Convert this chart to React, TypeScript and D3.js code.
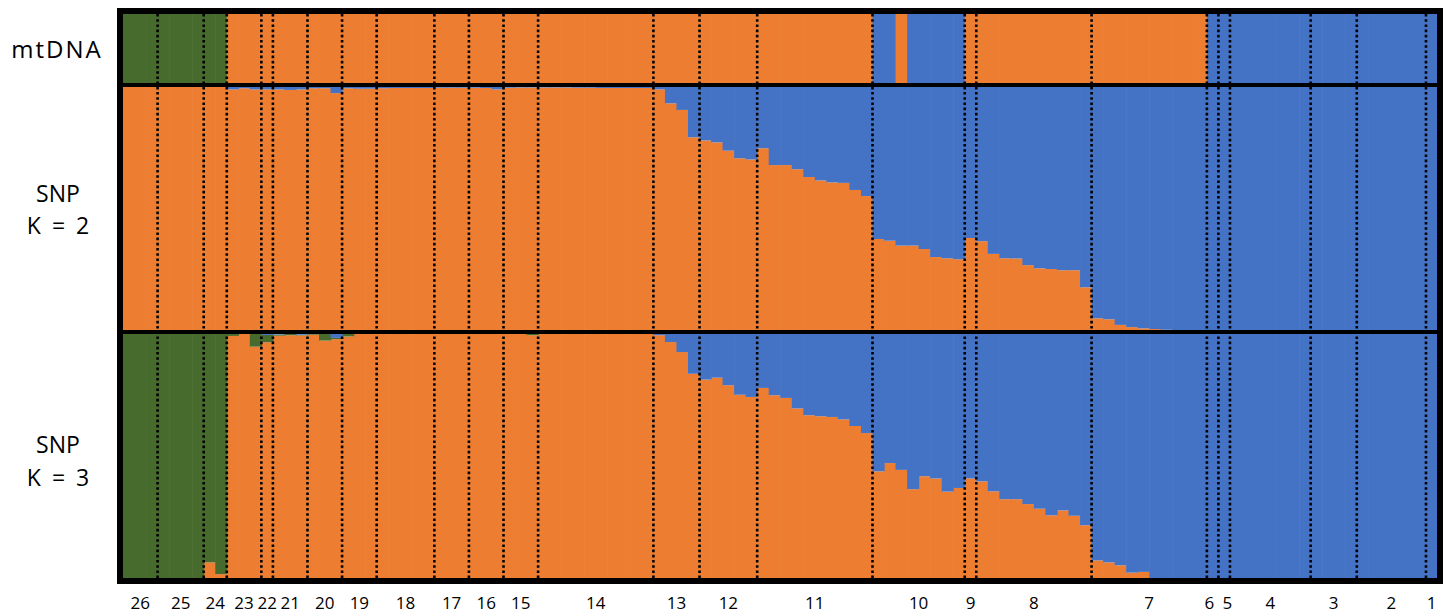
import React from "react";
import * as d3 from "d3";

// Population labels (left to right) and number of individuals in each
const popLabels = ["26","25","24","23","22","21","20","19","18","17","16","15","14","13","12","11","10","9","8","7","6","5","4","3","2","1"];
const popSizes = [3,4,2,3,1,3,3,3,5,3,3,3,10,4,5,10,8,1,10,10,1,1,7,4,6,1];

// mtDNA haplogroup per individual, grouped per population (G green, O orange, B blue)
const mtDNAByPop = [
  "GGG","GGGG","GG","OOO","O","OOO","OOO","OOO","OOOOO","OOO","OOO","OOO",
  "OOOOOOOOOO","OOOO","OOOOO","OOOOOOOOOO","BBOBBBBB","O","OOOOOOOOOO","OOOOOOOOOO",
  "B","B","BBBBBBB","BBBB","BBBBBB","B"
];

// SNP K = 2: orange membership per individual (blue = remainder)
const k2Orange = [
  1,1,1, 1,1,1,1, 1,1,
  0.99,0.995,0.99, 0.99, 0.99,0.988,0.99, 0.995,0.995,0.975, 0.995,0.993,0.993,
  0.995,0.996,0.996,0.996,0.996, 0.997,0.997,0.997, 0.997,0.996,0.99, 0.997,0.998,0.998,
  0.998,0.998,0.998,0.997,0.997,0.996,0.996,0.996,0.996,0.996,
  0.99,0.933,0.906,0.794,
  0.781,0.773,0.739,0.708,0.703,
  0.749,0.68,0.68,0.663,0.631,0.617,0.609,0.607,0.578,0.553,
  0.377,0.37,0.35,0.35,0.336,0.303,0.298,0.294,
  0.381,
  0.368,0.316,0.298,0.297,0.27,0.257,0.254,0.249,0.249,0.179,
  0.052,0.048,0.025,0.016,0.011,0.008,0.005,0.003,0,0,
  0, 0, 0,0,0,0,0,0,0, 0,0,0,0, 0,0,0,0,0,0, 0
];

// SNP K = 3: green and orange membership per individual (blue = remainder)
const k3Green = [
  1,1,1, 1,1,1,1, 0.936,0.984,
  0.008,0,0.052, 0.03, 0.005,0.005,0.003, 0.003,0.027,0.005, 0.01,0,0,
  0,0,0,0,0, 0,0,0, 0,0,0, 0,0,0.005,
  0,0,0,0,0,0,0,0,0,0,
  0,0,0,0, 0,0,0,0,0, 0,0,0,0,0,0,0,0,0,0,
  0,0,0,0,0,0,0,0, 0, 0,0,0,0,0,0,0,0,0,0,
  0,0,0,0,0,0,0,0,0,0,
  0, 0, 0,0,0,0,0,0,0, 0,0,0,0, 0,0,0,0,0,0, 0
];
const k3Orange = [
  0,0,0, 0,0,0,0, 0.064,0.016,
  0.992,1,0.948, 0.966, 0.993,0.995,0.994, 0.997,0.973,0.979, 0.99,1,1,
  1,1,1,1,1, 1,1,1, 1,1,1, 1,1,0.995,
  1,1,1,1,1,1,1,1,1,1,
  0.995,0.967,0.926,0.837,
  0.813,0.821,0.79,0.751,0.742,
  0.779,0.749,0.738,0.695,0.667,0.663,0.66,0.65,0.623,0.594,
  0.437,0.471,0.443,0.364,0.417,0.408,0.354,0.369,
  0.408,
  0.396,0.355,0.323,0.323,0.303,0.284,0.257,0.277,0.255,0.216,
  0.072,0.064,0.052,0.022,0.025,0,0,0,0,0,
  0, 0, 0,0,0,0,0,0,0, 0,0,0,0, 0,0,0,0,0,0, 0
];

const COLORS: Record<string, string> = { G: "#476B2D", O: "#ED7D31", B: "#4472C4" };

export default function App() {
  const W = 1449, H = 613;
  const n = d3.sum(popSizes);
  const x = d3.scaleLinear().domain([0, n]).range([123, 1437.5]);
  const yMt = d3.scaleLinear().domain([0, 1]).range([85, 14]);
  const yK2 = d3.scaleLinear().domain([0, 1]).range([331, 87]);
  const yK3 = d3.scaleLinear().domain([0, 1]).range([578, 334]);

  const mt = mtDNAByPop.join("").split("");
  const cum: number[] = Array.from(d3.cumsum(popSizes));
  const starts = popSizes.map((s, i) => cum[i] - s);

  // label centres, pushed apart where single-individual populations crowd together
  const labelX = popSizes.map((s, i) => x(starts[i] + s / 2));
  const minGap = 18;
  for (let pass = 0; pass < 4; pass++) {
    for (let i = 1; i < labelX.length; i++) {
      const gap = labelX[i] - labelX[i - 1];
      if (gap < minGap) {
        const push = (minGap - gap) / 2;
        labelX[i - 1] -= push;
        labelX[i] += push;
      }
    }
  }

  const k2Rows = d3.range(n).map((i) => ({ orange: k2Orange[i], blue: Math.max(0, 1 - k2Orange[i]) }));
  const k3Rows = d3.range(n).map((i) => ({
    orange: k3Orange[i],
    green: k3Green[i],
    blue: Math.max(0, 1 - k3Orange[i] - k3Green[i]),
  }));
  const k2Stack = d3.stack<any>().keys(["orange", "blue"])(k2Rows);
  const k3Stack = d3.stack<any>().keys(["orange", "green", "blue"])(k3Rows);
  const keyColor: Record<string, string> = { orange: COLORS.O, green: COLORS.G, blue: COLORS.B };

  const bw = (i: number) => x(i + 1) - x(i) + 0.6;

  const font = "'Open Sans', 'Noto Sans', sans-serif";

  return (
    <svg width={W} height={H} style={{ position: "absolute", left: 0, top: 0, background: "#fff" }} fontFamily={font}>
      {/* mtDNA */}
      {mt.map((h, i) => (
        <rect key={"mt" + i} x={x(i)} y={yMt(1)} width={bw(i)} height={yMt(0) - yMt(1)} fill={COLORS[h]} />
      ))}
      {/* K = 2 */}
      {k2Stack.map((layer) =>
        layer.map((d, i) => (
          <rect key={layer.key + "k2" + i} x={x(i)} y={yK2(d[1])} width={bw(i)}
            height={Math.max(0, yK2(d[0]) - yK2(d[1]))} fill={keyColor[layer.key]} />
        ))
      )}
      {/* K = 3 */}
      {k3Stack.map((layer) =>
        layer.map((d, i) => (
          <rect key={layer.key + "k3" + i} x={x(i)} y={yK3(d[1])} width={bw(i)}
            height={Math.max(0, yK3(d[0]) - yK3(d[1]))} fill={keyColor[layer.key]} />
        ))
      )}
      {/* population boundaries */}
      {cum.slice(0, -1).map((c, i) => (
        <line key={"b" + i} x1={x(c)} x2={x(c)} y1={14} y2={578} stroke="#000"
          strokeWidth={2.6} strokeDasharray="2.6 2.6" />
      ))}
      {/* panel separators */}
      <line x1={120} x2={1440} y1={85} y2={85} stroke="#000" strokeWidth={4} />
      <line x1={120} x2={1440} y1={332} y2={332} stroke="#000" strokeWidth={4} />
      {/* frame */}
      <rect x={120} y={11} width={1320} height={570} fill="none" stroke="#000" strokeWidth={6} />
      {/* row labels */}
      <text x={57} y={48} fontSize={24} letterSpacing={2} textAnchor="middle" dominantBaseline="central" fill="#000">mtDNA</text>
      <text x={58} y={193} fontSize={23} textAnchor="middle" dominantBaseline="central" fill="#000">SNP</text>
      <text x={58} y={225} fontSize={23} wordSpacing={5} textAnchor="middle" dominantBaseline="central" fill="#000">K = 2</text>
      <text x={58} y={444} fontSize={23} textAnchor="middle" dominantBaseline="central" fill="#000">SNP</text>
      <text x={58} y={477} fontSize={23} wordSpacing={5} textAnchor="middle" dominantBaseline="central" fill="#000">K = 3</text>
      {/* population labels */}
      {popLabels.map((lab, i) => (
        <text key={"l" + i} x={labelX[i]} y={602} fontSize={17}
          textAnchor="middle" dominantBaseline="central" fill="#000">{lab}</text>
      ))}
    </svg>
  );
}
